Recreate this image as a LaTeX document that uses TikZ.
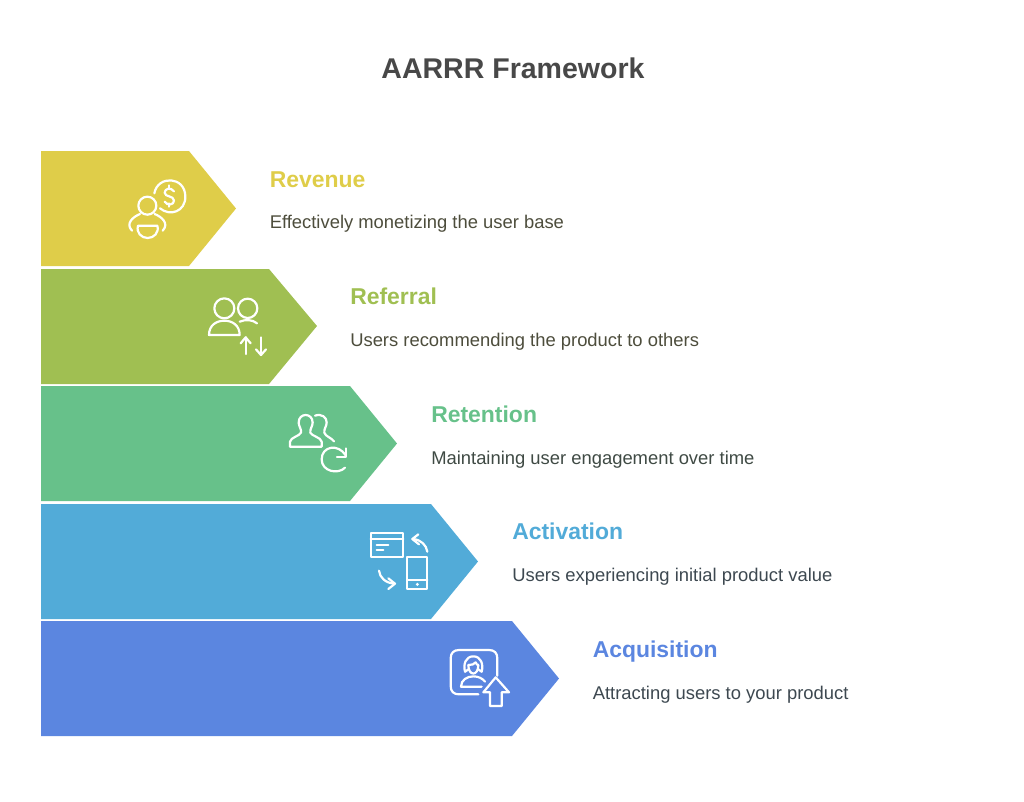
\documentclass[tikz,border=0pt]{standalone}
\usepackage{fontspec}
\setmainfont{Liberation Sans}
\definecolor{revenuecol}{HTML}{DFCD49}
\definecolor{referralcol}{HTML}{A0BF52}
\definecolor{retentioncol}{HTML}{67C18A}
\definecolor{activationcol}{HTML}{52ABD8}
\definecolor{acquisitioncol}{HTML}{5B86E0}
\definecolor{titlecol}{HTML}{484848}
\definecolor{olivetext}{HTML}{4D4D3C}
\definecolor{greentext}{HTML}{3F4A44}
\definecolor{bluetext}{HTML}{3D4850}
\tikzset{
	iconline/.style={draw=white, line width=1.65pt, line cap=round, line join=round},
	headlabel/.style={anchor=base west, inner sep=0pt, font=\fontsize{17.2}{20}\selectfont\bfseries},
	bodylabel/.style={anchor=base west, inner sep=0pt, font=\fontsize{13.8}{15}\selectfont},
}
\begin{document}
\begin{tikzpicture}[x=0.75pt, y=-0.75pt]
	\useasboundingbox (0, 0) rectangle (1024, 801);
	%%%%% START %%%%%

	\node[anchor=center, inner sep=0pt, text=titlecol, font=\fontsize{21.4}{26}\selectfont\bfseries] (title) at (513, 68) {AARRR Framework};

	\fill[revenuecol] (41, 151) -- (189, 151) -- (236, 208.5) -- (189, 266) -- (41, 266) -- cycle;
	\fill[referralcol] (41, 269) -- (269, 269) -- (317, 326) -- (269, 384) -- (41, 384) -- cycle;
	\fill[retentioncol] (41, 386) -- (350, 386) -- (397, 443.5) -- (350, 501) -- (41, 501) -- cycle;
	\fill[activationcol] (41, 504) -- (431, 504) -- (478, 561.5) -- (431, 619) -- (41, 619) -- cycle;
	\fill[acquisitioncol] (41, 621) -- (512, 621) -- (559, 678.5) -- (512, 736) -- (41, 736) -- cycle;

	\node[headlabel, text=revenuecol] (revenue) at (269.5, 187) {Revenue};
	\node[bodylabel, text=olivetext] (revenuetext) at (269.5, 228.5) {Effectively monetizing the user base};
	\node[headlabel, text=referralcol] (referral) at (350, 304) {Referral};
	\node[bodylabel, text=olivetext] (referraltext) at (350, 346) {Users recommending the product to others};
	\node[headlabel, text=retentioncol] (retention) at (431, 422) {Retention};
	\node[bodylabel, text=greentext] (retentiontext) at (431, 464) {Maintaining user engagement over time};
	\node[headlabel, text=activationcol] (activation) at (512, 539.5) {Activation};
	\node[bodylabel, text=bluetext] (activationtext) at (512, 581) {Users experiencing initial product value};
	\node[headlabel, text=acquisitioncol] (acquisition) at (592.5, 657) {Acquisition};
	\node[bodylabel, text=bluetext] (acquisitiontext) at (592.5, 699) {Attracting users to your product};

	% revenue icon
	\begin{scope}[shift={(110, 160)}, x=0.25pt, y=-0.25pt]
		\draw[iconline] (112, 137) circle (27);
		\draw[iconline] (133, 100) .. controls (143, 45) and (226, 48) .. (226, 110) .. controls (226, 155) and (180, 170) .. (150, 145);
		\draw[iconline] (192, 94) .. controls (182, 80) and (164, 86) .. (164, 98) .. controls (164, 112) and (192, 106) .. (192, 122) .. controls (192, 135) and (172, 138) .. (164, 125);
		\draw[iconline] (178, 76) -- (178, 86) (178, 130) -- (178, 140);
		\draw[iconline] (66, 212) .. controls (45, 190) and (70, 170) .. (90, 162);
		\draw[iconline] (134, 162) .. controls (154, 170) and (179, 190) .. (158, 212);
		\draw[iconline] (84, 197) -- (142, 197) .. controls (148, 218) and (132, 234) .. (113, 234) .. controls (94, 234) and (78, 218) .. (84, 197) -- cycle;
	\end{scope}

	% referral icon
	\begin{scope}[shift={(195, 280)}, x=0.25pt, y=-0.25pt]
		\draw[iconline] (88, 85) circle (30);
		\draw[iconline] (158, 85) circle (29);
		\draw[iconline] (42, 165) .. controls (42, 135) and (65, 122) .. (88, 122) .. controls (111, 122) and (134, 135) .. (134, 165) -- cycle;
		\draw[iconline] (134, 125) .. controls (150, 118) and (172, 118) .. (186, 130);
		\draw[iconline] (152, 222) -- (152, 172);
		\draw[iconline] (137, 190) -- (152, 172) -- (167, 190);
		\draw[iconline] (198, 172) -- (198, 225);
		\draw[iconline] (183, 208) -- (198, 225) -- (213, 208);
	\end{scope}

	% retention icon
	\begin{scope}[shift={(275, 400)}, x=0.25pt, y=-0.25pt]
		\draw[iconline] (45, 140) -- (140, 140) -- (140, 125) .. controls (138, 112) and (110, 108) .. (106, 98) .. controls (104, 88) and (113, 78) .. (113, 68) .. controls (113, 52) and (102, 45) .. (92, 45) .. controls (82, 45) and (71, 52) .. (71, 68) .. controls (71, 78) and (80, 88) .. (78, 98) .. controls (74, 108) and (47, 112) .. (45, 125) -- cycle;
		\draw[iconline] (120, 47) .. controls (140, 40) and (156, 52) .. (155, 68) .. controls (155, 78) and (146, 88) .. (148, 98) .. controls (152, 110) and (168, 112) .. (177, 124);
		\draw[iconline] (210, 203) .. controls (190, 224) and (140, 215) .. (140, 178) .. controls (140, 138) and (190, 130) .. (212, 166);
		\draw[iconline] (213, 145) -- (213, 172) -- (186, 172);
	\end{scope}

	% activation icon
	\begin{scope}[shift={(355, 515)}, x=0.25pt, y=-0.25pt]
		\draw[iconline] (47, 53) rectangle (145, 125);
		\draw[iconline] (47, 72) -- (145, 72);
		\draw[iconline] (65, 90) -- (100, 90);
		\draw[iconline] (65, 105) -- (85, 105);
		\draw[iconline] (217, 110) .. controls (214, 90) and (198, 74) .. (174, 72);
		\draw[iconline] (190, 58) -- (172, 72) -- (192, 88);
		\draw[iconline] (157, 127) rectangle (217, 223);
		\draw[iconline] (157, 195) -- (217, 195);
		\fill[white] (187, 208) circle (5);
		\draw[iconline] (72, 167) .. controls (74, 188) and (92, 204) .. (118, 206);
		\draw[iconline] (100, 190) -- (120, 206) -- (100, 222);
	\end{scope}

	% acquisition icon
	\begin{scope}[shift={(435, 635)}, x=0.25pt, y=-0.25pt]
		\draw[iconline] (187, 122) -- (187, 70) .. controls (187, 54) and (178, 45) .. (162, 45) -- (72, 45) .. controls (56, 45) and (47, 54) .. (47, 70) -- (47, 153) .. controls (47, 169) and (56, 178) .. (72, 178) -- (130, 178);
		\draw[iconline] (90, 110) .. controls (84, 88) and (92, 64) .. (115, 64) .. controls (138, 64) and (146, 88) .. (140, 110);
		\draw[iconline] (90, 110) -- (102, 102);
		\draw[iconline] (140, 110) -- (128, 102);
		\draw[iconline] (100, 90) .. controls (100, 124) and (130, 124) .. (130, 90);
		\draw[iconline] (100, 90) .. controls (110, 90) and (118, 88) .. (122, 82) .. controls (124, 88) and (127, 90) .. (130, 90);
		\draw[iconline] (140, 155) -- (78, 155) .. controls (78, 135) and (96, 124) .. (115, 124) .. controls (130, 124) and (142, 130) .. (150, 140);
		\draw[iconline] (182, 127) -- (222, 172) -- (200, 172) -- (200, 213) -- (165, 213) -- (165, 172) -- (145, 172) -- cycle;
	\end{scope}

	%%%%% END %%%%%
\end{tikzpicture}
\end{document}
